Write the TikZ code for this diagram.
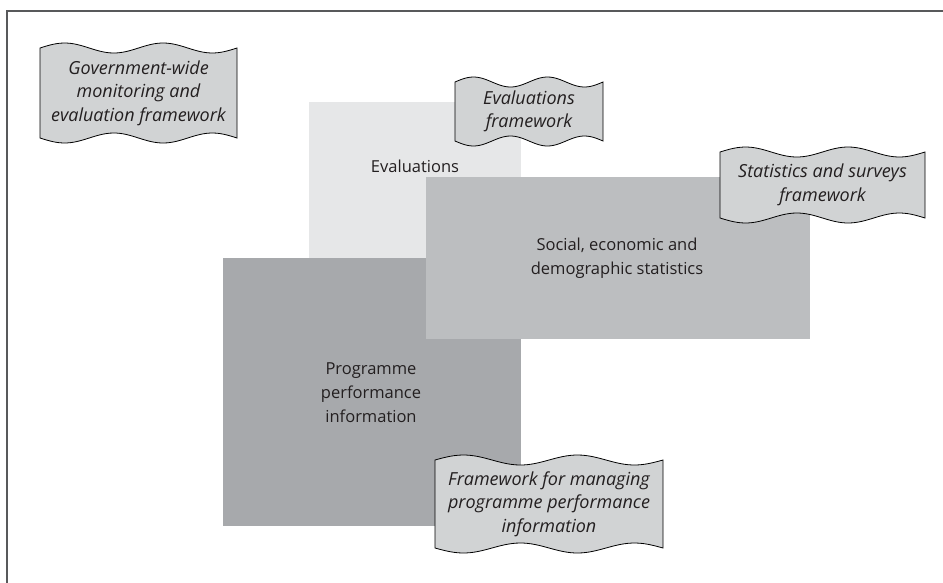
\documentclass[tikz,border=0pt]{standalone}
\usepackage{fontspec}
\setmainfont{Open Sans}
\usetikzlibrary{positioning}

\definecolor{evalgrey}{HTML}{E6E7E8}
\definecolor{statgrey}{HTML}{BCBEC0}
\definecolor{proggrey}{HTML}{A7A9AC}
\definecolor{bannergrey}{HTML}{D1D3D4}
\definecolor{framegrey}{HTML}{58595B}
\definecolor{inkgrey}{HTML}{231F20}

\tikzset{
  areabox/.style={inner sep=0pt, outer sep=0pt},
  arealabel/.style={align=center, text=inkgrey, font=\fontsize{16.5}{24}\selectfont},
  bannertext/.style={align=center, text=inkgrey, font=\fontsize{18}{23.5}\selectfont\itshape},
  bannerline/.style={fill=bannergrey, draw=black, line width=0.8pt}
}

% wavy document banner: name, left, top, right, bottom, text
\newcommand{\wavebanner}[6]{%
  \draw[bannerline] (#2,#3)
    -- plot[domain=#2:#4, samples=60] (\x,{#3-5*sin(720/(#4-#2)*(\x-#2))})
    -- plot[domain=#4:#2, samples=60] (\x,{#5+5*sin(720/(#4-#2)*(\x-#2))})
    -- cycle;
  \node[bannertext] (#1) at ({(#2+#4)/2},{(#3+#5)/2}) {#6};
}

\begin{document}
\begin{tikzpicture}[x=1pt, y=-1pt]
        \useasboundingbox (0,0) rectangle (943,582);
        \clip (0,0) rectangle (943,582);
        % Frame
        \draw[framegrey, line width=1.8pt] (7,11) rectangle (960,600);
        % Overlapping areas
        \node[areabox, fill=evalgrey, minimum width=212, minimum height=200] (eval) at (415,202) {};
        \node[areabox, fill=proggrey, minimum width=298, minimum height=268] (prog) at (372,392) {};
        \node[areabox, fill=statgrey, minimum width=384, minimum height=162] (stat) at (618,258) {};
        % Labels of the areas
        \node[arealabel] (evaltext) at (415,166) {Evaluations};
        \node[arealabel] (stattext) at (617,258) {Social, economic and\\demographic statistics};
        \node[arealabel] (progtext) at (371,393) {Programme\\performance\\information};
        % Frameworks
        \wavebanner{govfw}{40}{48}{237}{138}{Government-wide\\monitoring and\\evaluation framework}
        \wavebanner{evalfw}{455}{82}{603}{141}{Evaluations\\framework}
        \wavebanner{statfw}{720}{152}{925}{218}{Statistics and surveys\\framework}
        \wavebanner{progfw}{435}{460}{663}{548}{Framework for managing\\programme performance\\information}
    \end{tikzpicture}
\end{document}
